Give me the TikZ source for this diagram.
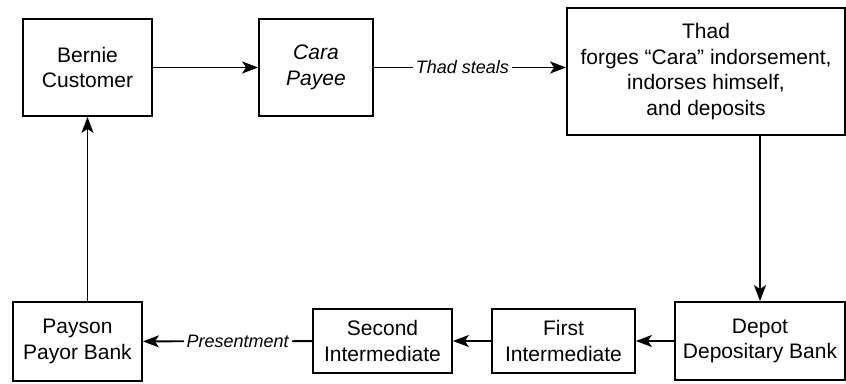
\documentclass[tikz,border=0pt]{standalone}
\usepackage{fontspec}
\setmainfont{Liberation Sans}
\usetikzlibrary{arrows.meta}

\begin{document}
\begin{tikzpicture}[x=1pt, y=-1pt, line width=1.8pt,
        box/.style={draw, align=center, inner sep=0pt, font=\fontsize{21}{25.5}\selectfont},
        lbl/.style={fill=white, inner sep=3pt, font=\fontsize{18}{20}\selectfont\itshape},
        >={Stealth[length=16pt, width=12pt, inset=4pt]}]
        \useasboundingbox (0,0) rectangle (846,383);

        \node[box, minimum width=129pt, minimum height=97pt]  (bernie) at (87.5,67.5)  {Bernie\\Customer};
        \node[box, minimum width=114pt, minimum height=97pt]  (cara)   at (316,67.5)   {\itshape Cara\\\itshape Payee};
        \node[box, minimum width=278pt, minimum height=127pt] (thad)   at (706,71.5)   {Thad\\forges “Cara” indorsement,\\indorses himself,\\and deposits};
        \node[box, minimum width=170pt, minimum height=78pt]  (depot)  at (760,341)    {Depot\\Depositary Bank};
        \node[box, minimum width=143pt, minimum height=64pt]  (first)  at (563.5,341)  {First\\Intermediate};
        \node[box, minimum width=139pt, minimum height=64pt]  (second) at (382.5,341)  {Second\\Intermediate};
        \node[box, minimum width=129pt, minimum height=79pt]  (payson) at (77.5,341.5) {Payson\\Payor Bank};

        \draw[->] (bernie) -- (cara);
        \draw[->] (cara.east) -- node[lbl, pos=.46] {Thad steals} (cara.east -| thad.west);
        \draw[->] (thad.south -| depot) -- (depot);
        \draw[->] (depot) -- (first);
        \draw[->] (first) -- (second);
        \draw[->] (second) -- node[lbl, pos=.44] {Presentment} (payson);
        \draw[->] (payson.north -| bernie) -- (bernie);
    \end{tikzpicture}
\end{document}
